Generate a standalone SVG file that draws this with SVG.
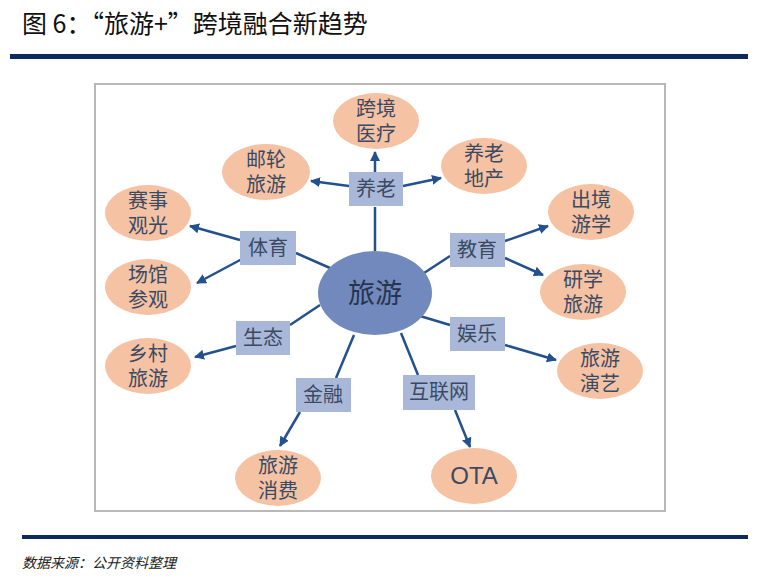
<svg xmlns="http://www.w3.org/2000/svg" width="772" height="581" viewBox="0 0 772 581">
<defs>
<marker id="ah" viewBox="0 0 10 10" refX="9" refY="5" markerWidth="4" markerHeight="4" orient="auto"><path d="M0,0 L10,5 L0,10 z" fill="#23508f"/></marker>
<style>
.l{font-family:"Noto Sans CJK SC",sans-serif;font-size:20px;fill:#3a4a63;text-anchor:middle}
.e{fill:#f5c2a3}
.b{fill:#a9b8d8}
.c line{stroke:#23508f;stroke-width:2.5}
.c line.a{marker-end:url(#ah)}
</style>
</defs>
<rect width="772" height="581" fill="#fff"/>
<text x="22" y="33" font-size="25" fill="#111" font-family="'Noto Sans CJK SC',sans-serif">图 6：“旅游+”跨境融合新趋势</text>
<rect x="10" y="54" width="738" height="5" fill="#0c2a5e"/>
<rect x="95" y="84" width="570" height="427" fill="#fff" stroke="#b8b8b8" stroke-width="2"/>
<g class="c">
<line x1="375" y1="251" x2="375" y2="207"/>
<line class="a" x1="375" y1="172" x2="375" y2="152"/>
<line class="a" x1="349" y1="186" x2="311" y2="181"/>
<line class="a" x1="403" y1="186" x2="441" y2="178"/>
<line x1="330" y1="268" x2="296" y2="253"/>
<line class="a" x1="240" y1="240" x2="190" y2="226"/>
<line class="a" x1="242" y1="259" x2="197" y2="283"/>
<line x1="421" y1="275" x2="450" y2="256"/>
<line class="a" x1="505" y1="241" x2="548" y2="226"/>
<line class="a" x1="505" y1="258" x2="543" y2="275"/>
<line x1="320" y1="305" x2="290" y2="325"/>
<line class="a" x1="236" y1="346" x2="195" y2="357"/>
<line x1="420" y1="316" x2="450" y2="325"/>
<line class="a" x1="505" y1="345" x2="556" y2="360"/>
<line x1="354" y1="335" x2="336" y2="378"/>
<line class="a" x1="300" y1="412" x2="280" y2="446"/>
<line x1="401" y1="333" x2="418" y2="375"/>
<line class="a" x1="455" y1="410" x2="470" y2="447"/>
</g>
<g id="center"><ellipse cx="375" cy="293" rx="57" ry="42" fill="#7189bd"/><text class="l" x="375" y="303" font-size="27" style="font-size:27px;fill:#27344d">旅游</text></g>
<g id="yanglao"><rect class="b" x="349" y="172" width="54" height="34"/><text class="l" x="376" y="196">养老</text></g>
<g id="tiyu"><rect class="b" x="240" y="231" width="56" height="34"/><text class="l" x="268" y="255">体育</text></g>
<g id="jiaoyu"><rect class="b" x="450" y="233" width="55" height="34"/><text class="l" x="477" y="257">教育</text></g>
<g id="shengtai"><rect class="b" x="236" y="321" width="54" height="34"/><text class="l" x="263" y="345">生态</text></g>
<g id="yule"><rect class="b" x="450" y="317" width="55" height="34"/><text class="l" x="477" y="341">娱乐</text></g>
<g id="jinrong"><rect class="b" x="296" y="378" width="55" height="34"/><text class="l" x="323" y="402">金融</text></g>
<g id="hulianwang"><rect class="b" x="403" y="375" width="72" height="35"/><text class="l" x="439" y="399">互联网</text></g>
<g id="n1"><ellipse class="e" cx="376" cy="121" rx="43" ry="28"/><text class="l" x="376" y="116">跨境</text><text class="l" x="376" y="141">医疗</text></g>
<g id="n2"><ellipse class="e" cx="266" cy="172" rx="44" ry="28"/><text class="l" x="266" y="167">邮轮</text><text class="l" x="266" y="192">旅游</text></g>
<g id="n3"><ellipse class="e" cx="484" cy="166" rx="43" ry="28"/><text class="l" x="484" y="161">养老</text><text class="l" x="484" y="186">地产</text></g>
<g id="n4"><ellipse class="e" cx="148" cy="213" rx="43" ry="28"/><text class="l" x="148" y="208">赛事</text><text class="l" x="148" y="233">观光</text></g>
<g id="n5"><ellipse class="e" cx="148" cy="287" rx="43" ry="28"/><text class="l" x="148" y="282">场馆</text><text class="l" x="148" y="307">参观</text></g>
<g id="n6"><ellipse class="e" cx="591" cy="212" rx="43" ry="28"/><text class="l" x="591" y="207">出境</text><text class="l" x="591" y="232">游学</text></g>
<g id="n7"><ellipse class="e" cx="583" cy="292" rx="43" ry="28"/><text class="l" x="583" y="287">研学</text><text class="l" x="583" y="312">旅游</text></g>
<g id="n8"><ellipse class="e" cx="148" cy="366" rx="43" ry="28"/><text class="l" x="148" y="361">乡村</text><text class="l" x="148" y="386">旅游</text></g>
<g id="n9"><ellipse class="e" cx="600" cy="371" rx="43" ry="28"/><text class="l" x="600" y="366">旅游</text><text class="l" x="600" y="391">演艺</text></g>
<g id="n10"><ellipse class="e" cx="278" cy="478" rx="43" ry="28"/><text class="l" x="278" y="473">旅游</text><text class="l" x="278" y="498">消费</text></g>
<g id="n11"><ellipse class="e" cx="474" cy="476" rx="43" ry="28"/><text class="l" x="474" y="484" style="font-family:'Liberation Sans',sans-serif;font-size:24px">OTA</text></g>
<rect x="22" y="535" width="726" height="4" fill="#0c2a5e"/>
<text x="22" y="568" font-size="14" font-style="italic" fill="#222" font-family="'Noto Sans CJK SC',sans-serif">数据来源：公开资料整理</text>
</svg>
